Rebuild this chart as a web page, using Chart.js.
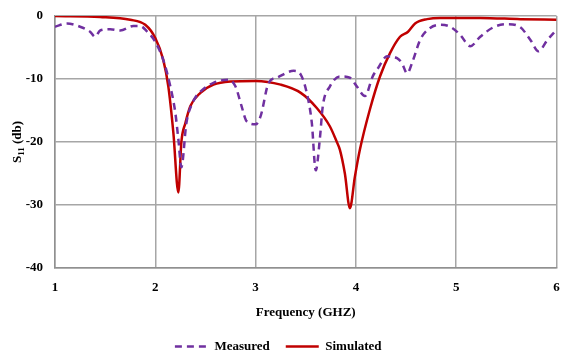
<!DOCTYPE html>
<html>
<head>
<meta charset="utf-8">
<script src="https://cdn.jsdelivr.net/npm/chart.js@4"></script>
<style>
  html, body { margin: 0; padding: 0; background: #fff; }
  #wrap { width: 569px; height: 363px; }
</style>
</head>
<body>
<div id="wrap"><canvas id="s11Chart" width="569" height="363"></canvas></div>
<script>
// ====== S11 chart: measured vs simulated ======

const measuredFreq = [1.0, 1.12, 1.25, 1.35, 1.40, 1.45, 1.55, 1.65, 1.78, 1.85, 1.92, 2.0, 2.08, 2.15, 2.20, 2.23, 2.26, 2.31, 2.38, 2.45, 2.58, 2.73, 2.80, 2.86, 2.91, 3.0, 3.05, 3.13, 3.21, 3.38, 3.45, 3.51, 3.56, 3.60, 3.64, 3.67, 3.74, 3.84, 3.94, 4.01, 4.09, 4.17, 4.22, 4.31, 4.41, 4.46, 4.51, 4.57, 4.64, 4.74, 4.84, 4.94, 5.04, 5.14, 5.24, 5.37, 5.51, 5.64, 5.74, 5.82, 5.91, 6.0];
const measuredDb = [-1.7, -1.2, -1.7, -2.5, -3.3, -2.3, -2.1, -2.3, -1.6, -1.6, -2.5, -4.1, -7, -11.2, -15.4, -19.6, -24, -17, -13.5, -12, -10.6, -10.1, -11.2, -14.3, -16.7, -17.2, -15.9, -10.6, -9.8, -8.7, -9.3, -12.2, -16.9, -24.5, -19.6, -14.3, -11.2, -9.6, -9.8, -11.2, -12.7, -9.5, -8.3, -6.4, -6.7, -7.5, -9.1, -7, -3.8, -1.9, -1.4, -1.7, -3, -4.8, -3.3, -1.8, -1.3, -1.8, -3.8, -5.6, -3.8, -2.2];

const simulatedFreq = [1.0, 1.45, 1.75, 1.9, 2.0, 2.08, 2.13, 2.18, 2.23, 2.26, 2.30, 2.35, 2.45, 2.58, 2.75, 3.0, 3.25, 3.45, 3.61, 3.74, 3.81, 3.84, 3.89, 3.94, 3.99, 4.04, 4.14, 4.24, 4.34, 4.44, 4.52, 4.59, 4.71, 4.84, 5.24, 5.64, 6.0];
const simulatedDb = [0, -0.15, -0.6, -1.4, -3.5, -7, -11.2, -18.5, -28, -20, -17, -14.3, -12.2, -10.9, -10.4, -10.3, -10.9, -12.2, -14.6, -17.5, -20, -21.2, -25, -30.5, -25.5, -21.2, -14.8, -9.6, -5.9, -3.3, -2.5, -1.2, -0.5, -0.3, -0.3, -0.5, -0.6];

const xTicks = [1, 2, 3, 4, 5, 6];
const yTicks = [0, -10, -20, -30, -40];

const serifBold = { family: "'Liberation Serif', 'Times New Roman', serif", size: 13, weight: 'bold' };

function toPoints(xs, ys) {
  return xs.map((x, i) => ({ x: x, y: ys[i] }));
}

// draws "S11 (db)" with a subscript, rotated, left of the plot
const yTitlePlugin = {
  id: 'yTitle',
  afterDraw(chart) {
    const { ctx, chartArea } = chart;
    const cy = (chartArea.top + chartArea.bottom) / 2;
    ctx.save();
    ctx.translate(18, cy);
    ctx.rotate(-Math.PI / 2);
    ctx.fillStyle = '#000';
    ctx.textBaseline = 'middle';
    const big = "bold 13px 'Liberation Serif', serif";
    const small = "bold 9px 'Liberation Serif', serif";
    ctx.font = big;
    const wS = ctx.measureText('S').width;
    const wRest = ctx.measureText(' (db)').width;
    ctx.font = small;
    const wSub = ctx.measureText('11').width;
    let x = -(wS + wSub + wRest) / 2;
    ctx.font = big;
    ctx.fillText('S', x, 0);
    x += wS;
    ctx.font = small;
    ctx.fillText('11', x, 4);
    x += wSub;
    ctx.font = big;
    ctx.fillText(' (db)', x, 0);
    ctx.restore();
  }
};

const ctx = document.getElementById('s11Chart').getContext('2d');
new Chart(ctx, {
  type: 'line',
  data: {
    datasets: [
      {
        label: 'Measured',
        data: toPoints(measuredFreq, measuredDb),
        borderColor: '#7030a0',
        backgroundColor: '#7030a0',
        borderWidth: 2.5,
        borderDash: [7, 5],
        pointRadius: 0,
        cubicInterpolationMode: 'monotone'
      },
      {
        label: 'Simulated',
        data: toPoints(simulatedFreq, simulatedDb),
        borderColor: '#c00000',
        backgroundColor: '#c00000',
        borderWidth: 2.5,
        pointRadius: 0,
        cubicInterpolationMode: 'monotone'
      }
    ]
  },
  options: {
    responsive: false,
    animation: false,
    layout: { padding: { left: 0, right: 12.5, top: 16, bottom: 0 } },
    plugins: {
      legend: {
        position: 'bottom',
        labels: {
          usePointStyle: true,
          pointStyle: 'line',
          pointStyleWidth: 33,
          boxHeight: 10,
          padding: 16,
          color: '#000',
          font: serifBold,
          // keep the dash pattern of each line in its legend sample
          generateLabels: chart => {
            const items = Chart.defaults.plugins.legend.labels.generateLabels(chart);
            items.forEach(item => {
              const ds = chart.data.datasets[item.datasetIndex];
              item.lineDash = ds.borderDash || [];
              item.lineWidth = 2.5;
              item.strokeStyle = ds.borderColor;
            });
            return items;
          }
        }
      },
      tooltip: { enabled: false }
    },
    scales: {
      x: {
        type: 'linear',
        min: 1,
        max: 6,
        afterBuildTicks: axis => { axis.ticks = xTicks.map(v => ({ value: v })); },
        afterFit: axis => { axis.height = 56; axis.paddingLeft = 0; axis.paddingRight = 0; },
        grid: { color: '#a6a6a6', lineWidth: 1.5, drawTicks: false },
        border: { color: '#909090', width: 1.5 },
        ticks: { color: '#000', font: serifBold, padding: 12 },
        title: { display: true, text: 'Frequency (GHZ)', color: '#000', font: serifBold, padding: { top: 8 } }
      },
      y: {
        min: -40,
        max: 0,
        afterBuildTicks: axis => { axis.ticks = yTicks.map(v => ({ value: v })); },
        afterFit: axis => { axis.width = 55; axis.paddingTop = 0; axis.paddingBottom = 0; },
        grid: { color: '#a6a6a6', lineWidth: 1.5, drawTicks: false },
        border: { color: '#909090', width: 1.5 },
        ticks: { color: '#000', font: serifBold, padding: 12 }
      }
    }
  },
  plugins: [yTitlePlugin]
});
</script>
</body>
</html>
